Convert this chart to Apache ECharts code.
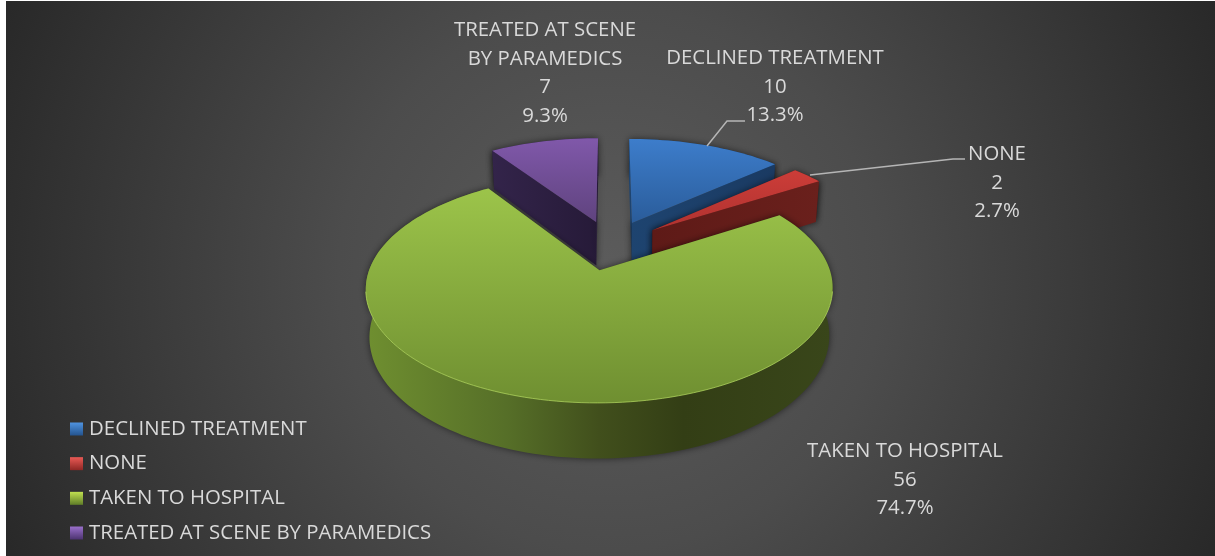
<!DOCTYPE html>
<html><head><meta charset="utf-8">
<style>html,body{margin:0;padding:0;background:#fff}#c{width:1215px;height:556px}</style>
<script src="https://cdn.jsdelivr.net/npm/echarts@6/dist/echarts.min.js"></script>
</head><body><div id="c"></div>
<script>
const categories = ['DECLINED TREATMENT','NONE','TAKEN TO HOSPITAL','TREATED AT SCENE BY PARAMEDICS'];
const values = [10, 2, 56, 7];
const labelLines = [['DECLINED TREATMENT'],['NONE'],['TAKEN TO HOSPITAL'],['TREATED AT SCENE','BY PARAMEDICS']];
const labelAnchors = [[775,58],[997,154],[905,451],[545,30]];
const leaderLines = [[[707,146],[727,121],[745,121]],[[810,175],[953,159],[965,159]],null,null];
const topColors = [['#3d7dcb','#2a5c9a'],['#cc3d38','#b03230'],['#9cc44a','#6f8f31'],['#8058aa','#5f437e']];
const wallColors = [['#1e4470','#1a3a62'],['#5e1a17','#6a201c'],['#6f8f30','#333e15'],['#33244a','#261a38']];
const legendColors = [['#4f93e0','#24548f'],['#ea5a55','#8e2724'],['#c0e050','#5f7d28'],['#9a70cc','#4c3370']];
const drawOrder = [3,0,1,2];

const GEO = {cx:611, cy:245, R:222, S:103.4, k:0.155, e:0.24, D:45, inset:0.985};
const total = values.reduce((a,b)=>a+b,0);
const TAU = Math.PI*2;
function project(X,V){const w=1-GEO.k*V;return [GEO.cx+GEO.R*X/w, GEO.cy+GEO.S*V/w, w];}
function bottom(p){return [GEO.cx+(p[0]-GEO.cx)*GEO.inset, p[1]+GEO.D/p[2]];}
function sliceGeom(i){
  let before=0; for(let j=0;j<i;j++) before+=values[j];
  const a0=before/total*TAU, a1=(before+values[i])/total*TAU, mid=(a0+a1)/2;
  const ox=Math.sin(mid)*GEO.e, oy=-Math.cos(mid)*GEO.e;
  const arc=[]; const n=Math.max(6,Math.round((a1-a0)/0.03));
  for(let s=0;s<=n;s++){const a=a0+(a1-a0)*s/n; arc.push(project(ox+Math.sin(a),oy-Math.cos(a)));}
  return {apex:project(ox,oy),arc};
}
function grad(x,y,x2,y2,c){return {type:'linear',x,y,x2,y2,global:true,colorStops:[{offset:0,color:c[0]},{offset:1,color:c[1]}]};}
const pts=a=>a.map(p=>[p[0],p[1]]);

function renderSlice(i){
  const {apex,arc}=sliceGeom(i), kids=[];
  const shadow={shadowBlur:7,shadowColor:'rgba(0,0,0,0.55)'};
  const xs=arc.map(p=>p[0]), ys=arc.map(p=>p[1]);
  const minX=Math.min(...xs,apex[0]), maxX=Math.max(...xs,apex[0]), minY=Math.min(...ys,apex[1]), maxY=Math.max(...ys,apex[1]);
  const botArc=arc.map(bottom);
  const wallFill = i===2
    ? {type:'linear',x:minX,y:0,x2:maxX,y2:0,global:true,colorStops:[{offset:0,color:'#6f8f30'},{offset:0.3,color:'#566f28'},{offset:0.5,color:'#414f1c'},{offset:0.68,color:'#333e15'},{offset:1,color:'#39461a'}]}
    : grad(minX,0,maxX,0,wallColors[i]);
  kids.push({type:'polygon',shape:{points:pts(arc).concat(botArc.slice().reverse())},style:Object.assign({fill:wallFill},shadow)});
  [arc[0],arc[arc.length-1]].forEach(edge=>{
    kids.push({type:'polygon',shape:{points:[[apex[0],apex[1]],[edge[0],edge[1]],bottom(edge),bottom(apex)]},style:Object.assign({fill:wallFill},shadow)});
  });
  kids.push({type:'polygon',shape:{points:[[apex[0],apex[1]]].concat(pts(arc))},style:{fill:grad(0,minY,0,maxY,topColors[i])}});
  if(i===2) kids.push({type:'polyline',shape:{points:pts(arc.filter(p=>p[1]>290))},style:{fill:null,stroke:'rgba(178,216,92,0.75)',lineWidth:1}});
  if(leaderLines[i]) kids.push({type:'polyline',shape:{points:leaderLines[i]},style:{fill:null,stroke:'#b5b5b5',lineWidth:1.5}});
  const pct=(values[i]/total*100).toFixed(1)+'%';
  const lines=labelLines[i].concat([String(values[i]),pct]);
  lines.forEach((t,l)=>{
    kids.push({type:'text',style:{text:t,x:labelAnchors[i][0],y:labelAnchors[i][1]+l*28.8,fill:'#d9d9d9',font:'20.4px "Open Sans"',align:'center',verticalAlign:'middle'}});
  });
  return {type:'group',children:kids};
}

const chart=echarts.init(document.getElementById('c'),null,{renderer:'canvas'});
chart.setOption({
  animation:false,
  backgroundColor:'#ffffff',
  graphic:[{type:'rect',z:-10,silent:true,shape:{x:6,y:1,width:1209,height:555},
    style:{fill:{type:'radial',x:610,y:278,r:680,global:true,colorStops:[{offset:0,color:'#5c5c5c'},{offset:0.4,color:'#4c4c4c'},{offset:1,color:'#272727'}]}}}],
  legend:{orient:'vertical',left:65,top:414,itemGap:14.67,itemWidth:13,itemHeight:13,selectedMode:false,icon:'rect',
    textStyle:{color:'#d9d9d9',fontFamily:'Open Sans',fontSize:20.4,lineHeight:20,padding:[0,0,0,1]},
    data:categories.map((n,i)=>({name:n,itemStyle:{color:{type:'linear',x:0,y:0,x2:0,y2:1,colorStops:[{offset:0,color:legendColors[i][0]},{offset:1,color:legendColors[i][1]}]}}}))},
  series:categories.map((n,i)=>({
    type:'custom',name:n,coordinateSystem:'none',silent:true,clip:false,
    z:2+drawOrder.indexOf(i),
    itemStyle:{color:topColors[i][0]},
    data:[[values[i]]],
    renderItem:()=>renderSlice(i)
  }))
});
</script></body></html>
